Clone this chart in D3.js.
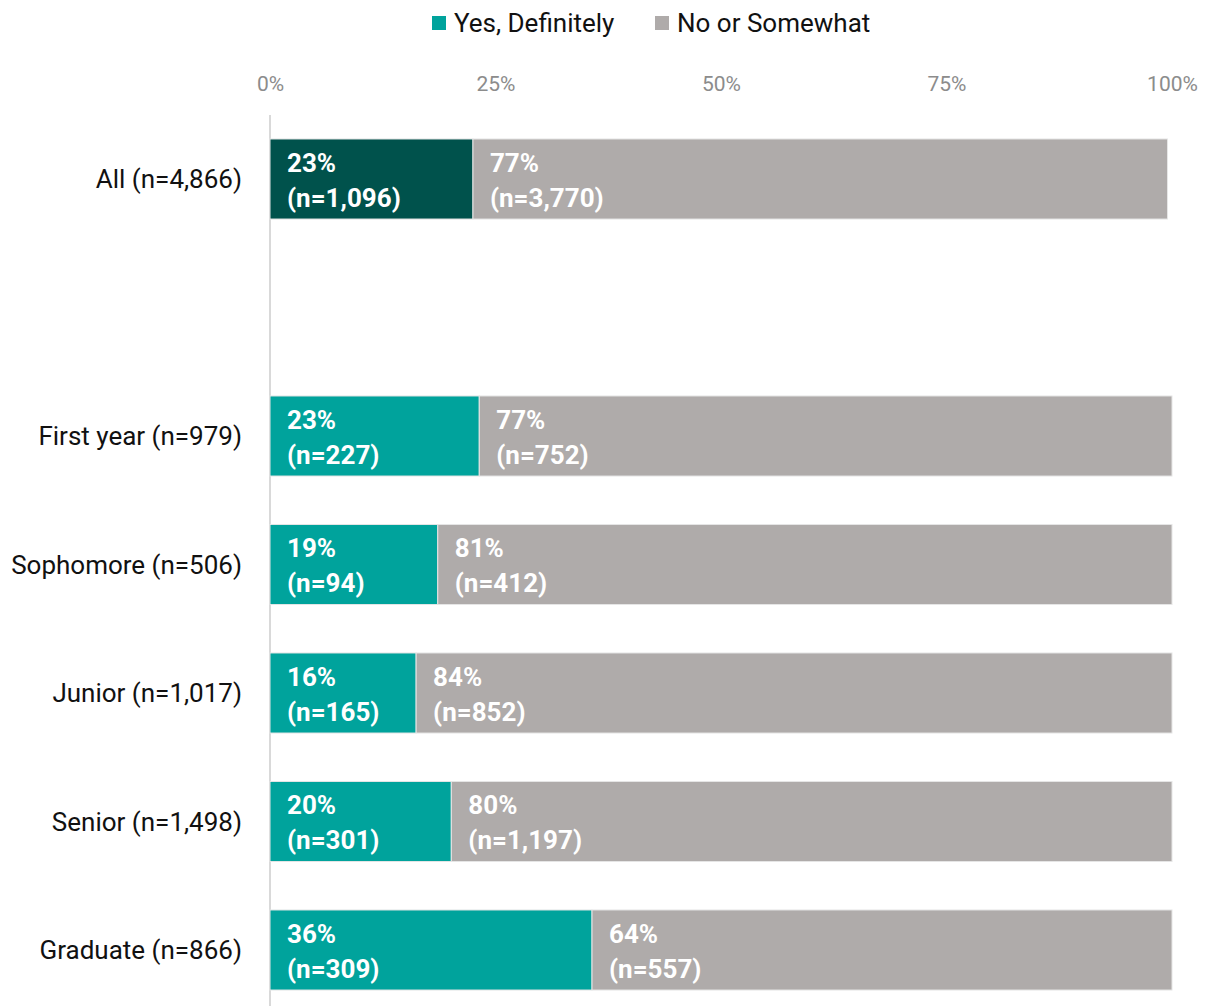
<!DOCTYPE html>
<html>
<head>
<meta charset="utf-8">
<script src="https://cdn.jsdelivr.net/npm/d3@7"></script>
<style>
  body { margin: 0; background: #fff; }
  svg { display: block; font-family: Roboto, "Noto Sans", sans-serif; }
</style>
</head>
<body>
<svg id="chart" width="1206" height="1006"></svg>
<script>
// rows, top to bottom ("" is the empty gap under "All")
const categories = ["All (n=4,866)", "", "First year (n=979)", "Sophomore (n=506)", "Junior (n=1,017)", "Senior (n=1,498)", "Graduate (n=866)"];
const yesPct = [22.5, null, 23.2, 18.6, 16.2, 20.1, 35.7];
const noPct = [77.0, null, 76.8, 81.4, 83.8, 79.9, 64.3];
const yesLabel = ["23%", null, "23%", "19%", "16%", "20%", "36%"];
const noLabel = ["77%", null, "77%", "81%", "84%", "80%", "64%"];
const yesCount = ["1,096", null, "227", "94", "165", "301", "309"];
const noCount = ["3,770", null, "752", "412", "852", "1,197", "557"];
const seriesNames = ["Yes, Definitely", "No or Somewhat"];
const tickValues = [0, 25, 50, 75, 100];

const colors = { yes: "#00a39c", yesAll: "#00524c", no: "#afabaa" };

const svg = d3.select("#chart");
const left = 270, right = 1172;

const x = d3.scaleLinear().domain([0, 100]).range([left, right]);
const y = d3.scaleBand()
  .domain(categories.map((c, i) => i))
  .range([119.7, 1009.3])
  .paddingInner(0.377)
  .paddingOuter(0.15);

// top axis labels
const xAxis = svg.append("g")
  .attr("transform", "translate(0,84)")
  .call(d3.axisTop(x).tickValues(tickValues).tickFormat(d => d + "%").tickSize(0).tickPadding(0));
xAxis.select(".domain").remove();
xAxis.selectAll("text")
  .attr("y", 0)
  .attr("dy", "0.35em")
  .attr("font-size", 21)
  .attr("font-family", "Roboto")
  .attr("fill", "#8c8c8c");

// vertical baseline
svg.append("line")
  .attr("x1", x(0)).attr("x2", x(0))
  .attr("y1", 115).attr("y2", 1006)
  .attr("stroke", "#d9d9d9").attr("stroke-width", 2);

const rows = categories.map((c, i) => ({ i, c })).filter(d => yesPct[d.i] != null);

const g = svg.append("g");
rows.forEach(d => {
  const y0 = y(d.i), h = y.bandwidth();
  const xy = x(yesPct[d.i]);
  const xn = x(yesPct[d.i] + noPct[d.i]);
  g.append("rect")
    .attr("x", x(0)).attr("y", y0)
    .attr("width", xy - x(0)).attr("height", h)
    .attr("fill", d.i === 0 ? colors.yesAll : colors.yes)
    .attr("stroke", "#e6e6e6").attr("stroke-width", 1);
  g.append("rect")
    .attr("x", xy).attr("y", y0)
    .attr("width", xn - xy).attr("height", h)
    .attr("fill", colors.no)
    .attr("stroke", "#e6e6e6").attr("stroke-width", 1);

  // category label
  g.append("text")
    .attr("x", 242).attr("y", y0 + h / 2)
    .attr("dy", "0.35em")
    .attr("text-anchor", "end")
    .attr("font-size", 26)
    .attr("fill", "#111")
    .text(d.c);

  // value labels inside bars
  [[x(0), yesLabel[d.i], yesCount[d.i]], [xy, noLabel[d.i], noCount[d.i]]].forEach(([sx, pct, n]) => {
    const t = g.append("text")
      .attr("x", sx + 17)
      .attr("font-size", 26)
      .attr("font-weight", "bold")
      .attr("fill", "#fff");
    t.append("tspan").attr("x", sx + 17).attr("y", y0 + 33).text(pct);
    t.append("tspan").attr("x", sx + 17).attr("y", y0 + 68).text("(n=" + n + ")");
  });
});

// legend
const legend = svg.append("g").attr("transform", "translate(0,23)");
const legendX = [432, 655];
seriesNames.forEach((name, i) => {
  const lg = legend.append("g").attr("transform", `translate(${legendX[i]},0)`);
  lg.append("rect")
    .attr("x", 0).attr("y", -7)
    .attr("width", 14).attr("height", 14)
    .attr("fill", i === 0 ? colors.yes : colors.no);
  lg.append("text")
    .attr("x", 22).attr("dy", "0.35em")
    .attr("font-size", 26)
    .attr("fill", "#111")
    .text(name);
});
</script>
</body>
</html>
